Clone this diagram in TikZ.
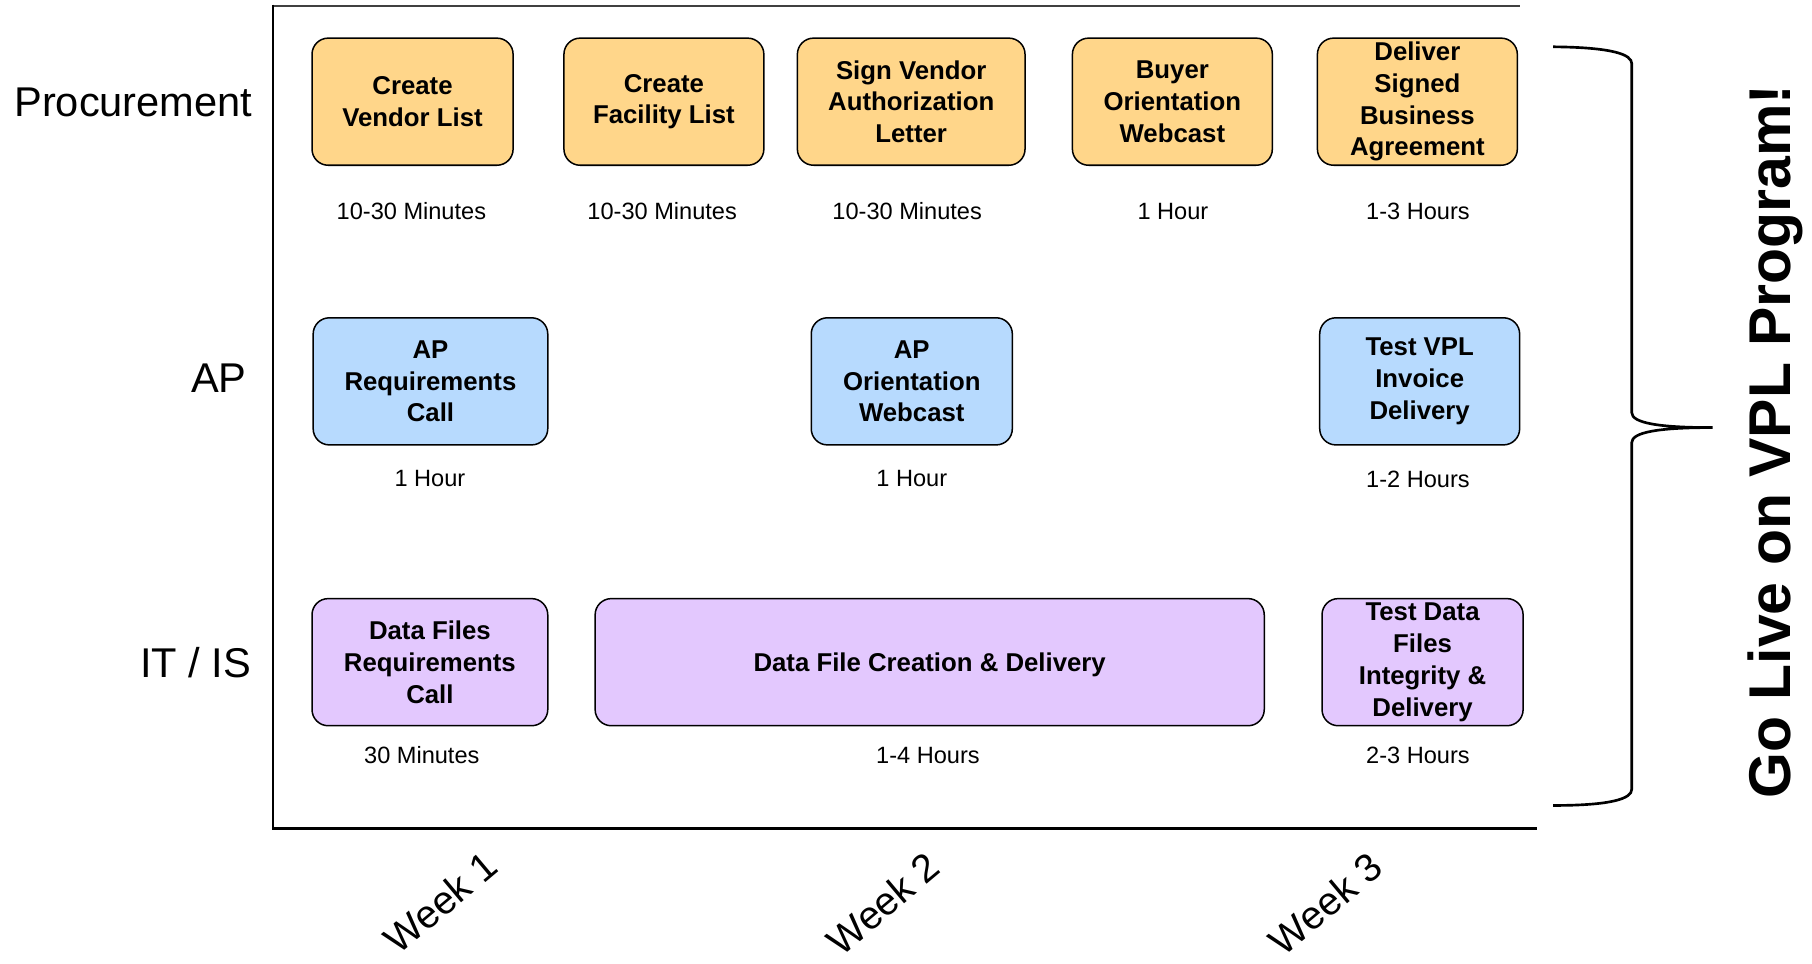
\documentclass[tikz,border=0pt]{standalone}
\usepackage{fontspec}
\setmainfont{Liberation Sans}
\definecolor{procfill}{HTML}{FFD68A}
\definecolor{apfill}{HTML}{B7DAFE}
\definecolor{itfill}{HTML}{E3C8FE}

\begin{document}
\begin{tikzpicture}[x=1pt,y=-1pt,
        task/.style={rectangle,draw,line width=1.3pt,rounded corners=14pt,minimum height=110pt,inner sep=0pt,align=center,font=\fontsize{22.3}{27.5}\selectfont\bfseries},
        proc/.style={task,fill=procfill},
        ap/.style={task,fill=apfill},
        itis/.style={task,fill=itfill},
        dur/.style={font=\fontsize{20.4}{24}\selectfont},
        lane/.style={anchor=base east,font=\fontsize{36}{40}\selectfont},
        week/.style={rotate=40,inner sep=0pt,font=\fontsize{34}{38}\selectfont}]
                \useasboundingbox (0,0) rectangle (1568,834);

                \draw[line width=2pt,black!75] (236,5) -- (1315,5);
                \draw[line width=2pt] (236,4) -- (236,717) -- (1330,717);

                \node[lane] (Proc) at (222,100.4){Procurement};
                \node[lane] (AP) at (217,340){AP};
                \node[lane] (ITIS) at (221,586){IT / IS};

                \node[proc,minimum width=174pt] (CVL) at (357,88){Create\\Vendor List};
                \node[proc,minimum width=173pt] (CFL) at (574.5,88){Create\\Facility List};
                \node[proc,minimum width=197pt] (SVA) at (788.5,88){Sign Vendor\\Authorization\\Letter};
                \node[proc,minimum width=173pt] (BOW) at (1014.5,88){Buyer\\Orientation\\Webcast};
                \node[proc,minimum width=173pt] (DSB) at (1226.5,88){Deliver\\Signed\\Business\\Agreement};

                \node[dur] (tCVL) at (356,183){10-30 Minutes};
                \node[dur] (tCFL) at (573,183){10-30 Minutes};
                \node[dur] (tSVA) at (785,183){10-30 Minutes};
                \node[dur] (tBOW) at (1015,183){1 Hour};
                \node[dur] (tDSB) at (1227,183){1-3 Hours};

                \node[ap,minimum width=203pt] (APR) at (372.5,330){AP\\Requirements\\Call};
                \node[ap,minimum width=174pt] (APO) at (789,330){AP\\Orientation\\Webcast};
                \node[ap,minimum width=173pt] (TVP) at (1228.5,330){Test VPL\\Invoice\\Delivery};

                \node[dur] (tAPR) at (372,414){1 Hour};
                \node[dur] (tAPO) at (789,414){1 Hour};
                \node[dur] (tTVP) at (1227,415){1-2 Hours};

                \node[itis,minimum width=204pt] (DFR) at (372,573){Data Files\\Requirements\\Call};
                \node[itis,minimum width=579pt,text depth=0pt] (DFC) at (804.5,573){Data File Creation \& Delivery};
                \node[itis,minimum width=174pt] (TDF) at (1231,573){Test Data\\Files\\Integrity \&\\Delivery};

                \node[dur] (tDFR) at (365,653){30 Minutes};
                \node[dur] (tDFC) at (803,654){1-4 Hours};
                \node[dur] (tTDF) at (1227,654){2-3 Hours};

                \node[week] (W1) at (381,781){Week 1};
                \node[week] (W2) at (764,782){Week 2};
                \node[week] (W3) at (1147,782){Week 3};

                \draw[line width=2.3pt] (1344,40.5) .. controls (1395,41) and (1412,47) .. (1412,55) -- (1412,357)
                        .. controls (1412,366) and (1435,370) .. (1482,370)
                        .. controls (1435,370) and (1412,374) .. (1412,383) -- (1412,683)
                        .. controls (1412,691) and (1395,697) .. (1344,697);

                \node[anchor=base,rotate=90,font=\fontsize{51}{56}\selectfont\bfseries] (Live) at (1549,382){Go Live on VPL Program!};
        \end{tikzpicture}
\end{document}
